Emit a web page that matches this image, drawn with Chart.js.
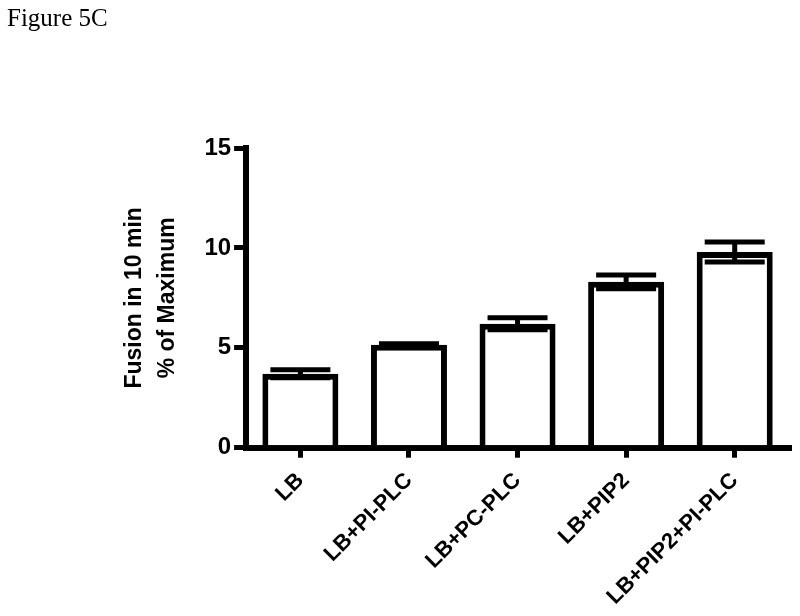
<!DOCTYPE html>
<html>
<head>
<meta charset="utf-8">
<script src="https://cdn.jsdelivr.net/npm/chart.js@4"></script>
<style>
  body { margin: 0; background: #fff; }
  #wrap { position: relative; width: 800px; height: 616px; }
  #fig { position: absolute; left: 7px; top: 4px; font-family: 'Liberation Serif', 'Times New Roman', serif; font-size: 25px; color: #000; }
</style>
</head>
<body>
<div id="wrap">
  <div id="fig">Figure 5C</div>
  <canvas id="fusionChart" width="800" height="616"></canvas>
</div>
<script>
const categories = ['LB', 'LB+PI-PLC', 'LB+PC-PLC', 'LB+PIP2', 'LB+PIP2+PI-PLC'];
const fusionMeans = [3.7, 5.15, 6.2, 8.3, 9.8];
const fusionErrors = [0.2, 0.05, 0.3, 0.35, 0.5];
const yTicks = [0, 5, 10, 15];

// draws the SEM whiskers through the chart's own scales
const errorBarPlugin = {
    id: 'errorBars',
    afterDatasetsDraw(chart) {
        const ctx = chart.ctx;
        const xScale = chart.scales.x;
        const yScale = chart.scales.y;
        ctx.save();
        ctx.strokeStyle = '#000';
        ctx.lineWidth = 5;
        ctx.lineCap = 'butt';
        fusionMeans.forEach(function(mean, i) {
            const x = xScale.getPixelForValue(i);
            const yHi = yScale.getPixelForValue(mean + fusionErrors[i]);
            const yLo = yScale.getPixelForValue(mean - fusionErrors[i]);
            const half = 30;
            ctx.beginPath();
            ctx.moveTo(x, yHi);
            ctx.lineTo(x, yLo);
            ctx.moveTo(x - half, yHi);
            ctx.lineTo(x + half, yHi);
            ctx.moveTo(x - half, yLo);
            ctx.lineTo(x + half, yLo);
            ctx.stroke();
        });
        ctx.restore();
    }
};

document.addEventListener('DOMContentLoaded', function() {
    const ctx = document.getElementById('fusionChart').getContext('2d');
    new Chart(ctx, {
        type: 'bar',
        data: {
            labels: categories,
            datasets: [{
                data: fusionMeans,
                backgroundColor: '#fff',
                borderColor: '#000',
                borderWidth: 6,
                borderSkipped: 'start',
                barPercentage: 0.7,
                categoryPercentage: 1.0
            }]
        },
        options: {
            responsive: false,
            animation: false,
            layout: { padding: { left: 119, right: 11, top: 148, bottom: -4 } },
            plugins: {
                legend: { display: false },
                tooltip: { enabled: false }
            },
            scales: {
                x: {
                    offset: true,
                    grid: {
                        offset: false,
                        drawOnChartArea: false,
                        drawTicks: true,
                        tickLength: 10,
                        lineWidth: 5,
                        color: '#000'
                    },
                    border: { display: true, width: 6, color: '#000' },
                    ticks: {
                        color: '#000',
                        minRotation: 45,
                        maxRotation: 45,
                        padding: 10,
                        font: { family: "'Liberation Sans', Arial, sans-serif", size: 22, weight: 'bold' }
                    }
                },
                y: {
                    min: 0,
                    max: 15,
                    afterBuildTicks: function(axis) {
                        axis.ticks = yTicks.map(function(v) { return { value: v }; });
                    },
                    grid: {
                        drawOnChartArea: false,
                        drawTicks: true,
                        tickLength: 12,
                        lineWidth: 5,
                        color: '#000'
                    },
                    border: { display: true, width: 6, color: '#000' },
                    ticks: {
                        color: '#000',
                        padding: 3,
                        font: { family: "'Liberation Sans', Arial, sans-serif", size: 24, weight: 'bold' }
                    },
                    title: {
                        display: true,
                        text: ['Fusion in 10 min', '% of Maximum'],
                        color: '#000',
                        padding: { top: 0, bottom: 18 },
                        font: { family: "'Liberation Sans', Arial, sans-serif", size: 23, weight: 'bold', lineHeight: 1.4 }
                    }
                }
            }
        },
        plugins: [errorBarPlugin]
    });
});
</script>
</body>
</html>
